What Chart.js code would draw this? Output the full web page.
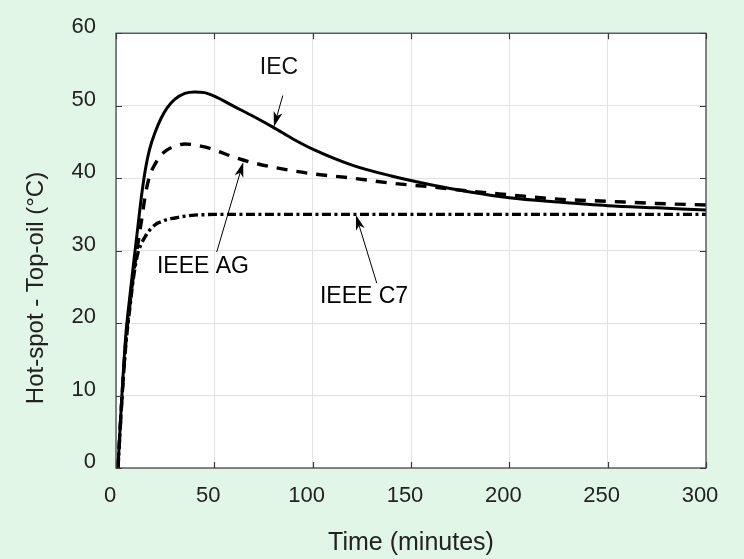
<!DOCTYPE html>
<html>
<head>
<meta charset="utf-8">
<script src="https://cdn.jsdelivr.net/npm/chart.js@4.4.1/dist/chart.umd.min.js"></script>
<style>
  html, body { margin: 0; padding: 0; background: #e1f6e7; }
  #wrap { width: 744px; height: 559px; }
</style>
</head>
<body>
<div id="wrap"><canvas id="chart" width="744" height="559"></canvas></div>
<script>
// time (minutes) shared by all three curves
const times = [1, 3, 5, 7, 9, 11, 13, 15, 17, 20, 23, 26, 30, 35, 40, 45, 50, 60, 70, 80,
  90, 100, 120, 140, 160, 180, 200, 225, 250, 275, 300];

// hot-spot minus top-oil rise (°C)
const iec = [0, 10, 18.4, 23.6, 28.4, 33, 37.6, 41.3, 43.9, 46.4, 48.3, 49.7, 50.9, 51.7, 51.9,
  51.8, 51.3, 49.9, 48.5, 47.0, 45.4, 44.0, 41.8, 40.3, 39.1, 38.1, 37.3, 36.7, 36.2, 35.9, 35.6];
const ieeeAg = [0, 9.5, 17.5, 22.5, 27, 30.7, 34.2, 37.8, 40.2, 42, 43.2, 43.9, 44.4, 44.7, 44.6,
  44.3, 43.9, 42.9, 42.1, 41.5, 41.0, 40.6, 40.0, 39.3, 38.8, 38.2, 37.7, 37.1, 36.8, 36.5, 36.3];
const ieeeC7 = [0, 9.5, 17, 22, 26.5, 29.5, 31, 32, 32.8, 33.6, 34, 34.3, 34.5, 34.75, 34.9,
  34.95, 35, 35, 35, 35, 35, 35, 35, 35, 35, 35, 35, 35, 35, 35, 35];

const xTickValues = [0, 50, 100, 150, 200, 250, 300];
const yTickValues = [0, 10, 20, 30, 40, 50, 60];

const xTitle = "Time (minutes)";
const yTitle = "Hot-spot - Top-oil (°C)";

// curve labels: text anchor, arrow start, arrow tip (in data units)
const notes = [
  { text: "IEC", at: [82.9, 55.3], from: [84.8, 51.4], to: [80.3, 47.1] },
  { text: "IEEE AG", at: [44.2, 27.8], from: [51.2, 29.8], to: [64.7, 42.2] },
  { text: "IEEE C7", at: [126.1, 23.6], from: [132.6, 25.5], to: [122.0, 34.9] },
];

const FONT = "'Liberation Sans', Arial, sans-serif";

function pts(ys) {
  return times.map((t, i) => ({ x: t, y: ys[i] }));
}

function drawArrow(ctx, x1, y1, x2, y2) {
  const ang = Math.atan2(y2 - y1, x2 - x1);
  const len = 15, half = 4.5, notch = 11;
  ctx.beginPath();
  ctx.moveTo(x1, y1);
  ctx.lineTo(x2 - Math.cos(ang) * notch, y2 - Math.sin(ang) * notch);
  ctx.strokeStyle = "#000";
  ctx.lineWidth = 1;
  ctx.stroke();
  const bx = x2 - Math.cos(ang) * len, by = y2 - Math.sin(ang) * len;
  const nx = -Math.sin(ang), ny = Math.cos(ang);
  ctx.beginPath();
  ctx.moveTo(x2, y2);
  ctx.lineTo(bx + nx * half, by + ny * half);
  ctx.lineTo(x2 - Math.cos(ang) * notch, y2 - Math.sin(ang) * notch);
  ctx.lineTo(bx - nx * half, by - ny * half);
  ctx.closePath();
  ctx.fillStyle = "#000";
  ctx.fill();
}

const framePlugin = {
  id: "frame",
  beforeDraw(chart) {
    const { ctx, chartArea: a } = chart;
    ctx.save();
    ctx.fillStyle = "#e1f6e7";
    ctx.fillRect(0, 0, chart.width, chart.height);
    ctx.fillStyle = "#ffffff";
    ctx.fillRect(a.left, a.top, a.right - a.left, a.bottom - a.top);
    ctx.restore();
  },
  afterDraw(chart) {
    const { ctx, chartArea: a, scales } = chart;
    const xs = scales.x, ys = scales.y;
    ctx.save();
    // box with inward ticks
    ctx.strokeStyle = "#3a3a3a";
    ctx.lineWidth = 1.2;
    ctx.strokeRect(a.left, a.top, a.right - a.left, a.bottom - a.top);
    ctx.beginPath();
    xTickValues.forEach(v => {
      const px = Math.round(xs.getPixelForValue(v)) + 0.5;
      ctx.moveTo(px, a.bottom); ctx.lineTo(px, a.bottom - 6);
      ctx.moveTo(px, a.top); ctx.lineTo(px, a.top + 6);
    });
    yTickValues.forEach(v => {
      const py = Math.round(ys.getPixelForValue(v)) + 0.5;
      ctx.moveTo(a.left, py); ctx.lineTo(a.left + 6, py);
      ctx.moveTo(a.right, py); ctx.lineTo(a.right - 6, py);
    });
    ctx.stroke();

    // curve labels and arrows
    ctx.fillStyle = "#111";
    ctx.font = "23px " + FONT;
    ctx.textAlign = "center";
    ctx.textBaseline = "middle";
    notes.forEach(n => {
      ctx.fillText(n.text, xs.getPixelForValue(n.at[0]), ys.getPixelForValue(n.at[1]));
      drawArrow(ctx,
        xs.getPixelForValue(n.from[0]), ys.getPixelForValue(n.from[1]),
        xs.getPixelForValue(n.to[0]), ys.getPixelForValue(n.to[1]));
    });

    // axis titles
    ctx.fillStyle = "#222";
    ctx.font = "25px " + FONT;
    ctx.fillText(xTitle, (a.left + a.right) / 2, 543);
    ctx.translate(36, 288);
    ctx.rotate(-Math.PI / 2);
    ctx.font = "24px " + FONT;
    ctx.fillText(yTitle, 0, 0);
    ctx.restore();
  }
};

const lineStyle = {
  borderColor: "#000",
  borderWidth: 3,
  pointRadius: 0,
  fill: false,
  cubicInterpolationMode: "monotone",
};

new Chart(document.getElementById("chart").getContext("2d"), {
  type: "line",
  data: {
    datasets: [
      { ...lineStyle, label: "IEC", data: pts(iec) },
      { ...lineStyle, label: "IEEE AG", data: pts(ieeeAg), borderWidth: 3.4, borderDash: [11, 9] },
      { ...lineStyle, label: "IEEE C7", data: pts(ieeeC7), borderWidth: 3.4, borderDash: [9, 3.5, 3, 3.5] },
    ],
  },
  options: {
    responsive: false,
    animation: false,
    devicePixelRatio: 1,
    layout: { padding: { left: 0, right: 38, top: 33, bottom: 0 } },
    plugins: { legend: { display: false }, tooltip: { enabled: false } },
    scales: {
      x: {
        type: "linear",
        min: 0,
        max: 300,
        afterBuildTicks: s => { s.ticks = xTickValues.map(v => ({ value: v })); },
        afterFit: s => { s.height = 91; },
        grid: { color: "#e2e2e2", drawTicks: false },
        border: { display: false },
        ticks: { padding: 15, labelOffset: -6, color: "#222", font: { family: FONT, size: 22 } },
      },
      y: {
        type: "linear",
        min: 0,
        max: 60,
        afterBuildTicks: s => { s.ticks = yTickValues.map(v => ({ value: v })); },
        afterFit: s => { s.width = 116; },
        grid: { color: "#e2e2e2", drawTicks: false },
        border: { display: false },
        ticks: { padding: 20, labelOffset: -6, color: "#222", font: { family: FONT, size: 22 } },
      },
    },
  },
  plugins: [framePlugin],
});
</script>
</body>
</html>
